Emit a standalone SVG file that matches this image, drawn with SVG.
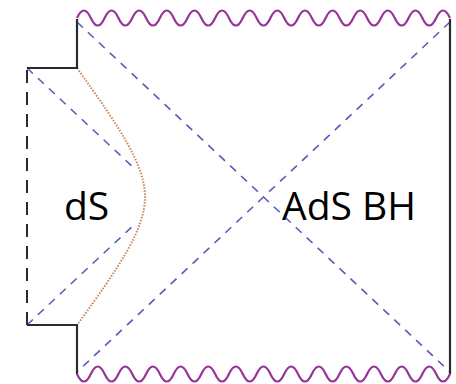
<svg xmlns="http://www.w3.org/2000/svg" width="456" height="384" viewBox="0 0 456 384">
<style>
.solid{fill:none;stroke:#2b2b2b;stroke-width:2.2;stroke-linejoin:miter}
.dashk{fill:none;stroke:#2b2b2b;stroke-width:2;stroke-dasharray:13 9}
.null{fill:none;stroke:#5a5ab8;stroke-width:1.6;stroke-dasharray:8 7}
.wave{fill:none;stroke:#993399;stroke-width:2.2;stroke-linejoin:round}
.curve{fill:none;stroke:#c8865a;stroke-width:2;stroke-dasharray:1.5 1.5}
.lbl{font-family:"Open Sans","Liberation Sans",sans-serif;font-size:39px;fill:#000}
</style>
<rect width="456" height="384" fill="#fff"/>
<g id="connectors">
<path class="null" d="M77,22 L450,372"/>
<path class="null" d="M450,22 L77,372"/>
<path class="null" d="M27,68 L136,170"/>
<path class="null" d="M27,325 L136,223"/>
<path class="curve" d="M77,68 C120,128 145,165 145,197 C145,229 120,266 77,325"/>
</g>
<g id="boundary">
<path class="solid" d="M27,68 L77,68 L77,19"/>
<path class="solid" d="M27,325 L77,325 L77,374"/>
<path class="solid" d="M450,19 L450,374"/>
<path class="dashk" d="M27,70 L27,325"/>
</g>
<g id="singularities">
<path class="wave" d="M77,18 q6.907,-15 13.815,0 t13.815,0 t13.815,0 t13.815,0 t13.815,0 t13.815,0 t13.815,0 t13.815,0 t13.815,0 t13.815,0 t13.815,0 t13.815,0 t13.815,0 t13.815,0 t13.815,0 t13.815,0 t13.815,0 t13.815,0 t13.815,0 t13.815,0 t13.815,0 t13.815,0 t13.815,0 t13.815,0 t13.815,0 t13.815,0 t13.815,0"/>
<path class="wave" d="M77,374 q6.907,15 13.815,0 t13.815,0 t13.815,0 t13.815,0 t13.815,0 t13.815,0 t13.815,0 t13.815,0 t13.815,0 t13.815,0 t13.815,0 t13.815,0 t13.815,0 t13.815,0 t13.815,0 t13.815,0 t13.815,0 t13.815,0 t13.815,0 t13.815,0 t13.815,0 t13.815,0 t13.815,0 t13.815,0 t13.815,0 t13.815,0 t13.815,0"/>
</g>
<g id="dS"><text class="lbl" x="64" y="220">dS</text></g>
<g id="AdSBH"><text class="lbl" x="282" y="220">AdS BH</text></g>
</svg>
